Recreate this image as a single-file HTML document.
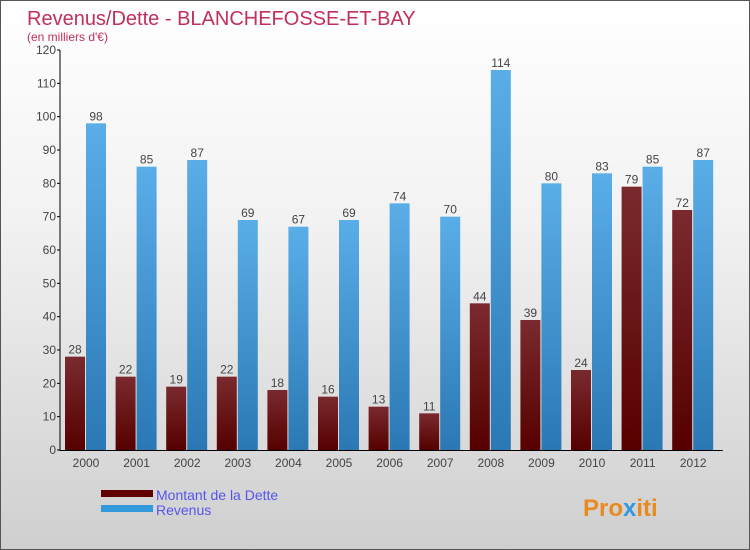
<!DOCTYPE html>
<html><head><meta charset="utf-8"><style>
body{margin:0}
#c{position:relative;width:748px;height:548px;border:1px solid #555;background:linear-gradient(#ffffff,#f2f2f2 40%,#cfcfcf);font-family:"Liberation Sans",sans-serif;overflow:hidden}
</style></head><body>
<div id="c">
<svg id="s" width="748" height="548">
<defs>
<linearGradient id="gd" x1="0" y1="0" x2="0" y2="1"><stop offset="0" stop-color="#7a2a2e"/><stop offset="1" stop-color="#560000"/></linearGradient>
<linearGradient id="gr" x1="0" y1="0" x2="0" y2="1"><stop offset="0" stop-color="#5aaee8"/><stop offset="1" stop-color="#2a78b4"/></linearGradient>
</defs>
<text x="26" y="24" font-size="20" fill="#c0305a">Revenus/Dette - BLANCHEFOSSE-ET-BAY</text>
<text x="26" y="40" font-size="12" fill="#c0305a">(en milliers d'€)</text>
<g id="g"></g>
<rect x="100" y="489" width="52" height="7" fill="#600000"/>
<rect x="100" y="504" width="52" height="7" fill="#3399dd"/>
<text x="155" y="499" font-size="14" fill="#5555ee">Montant de la Dette</text>
<text x="155" y="514" font-size="14" fill="#5555ee">Revenus</text>
<text x="582" y="515" font-size="24" font-weight="bold" fill="#e88a20">Pro<tspan fill="#3399dd">x</tspan>iti</text>
</svg></div>
<script>
const years=["2000","2001","2002","2003","2004","2005","2006","2007","2008","2009","2010","2011","2012"];
const dette=[28,22,19,22,18,16,13,11,44,39,24,79,72];
const revenus=[98,85,87,69,67,69,74,70,114,80,83,85,87];
const ticks=[0,10,20,30,40,50,60,70,80,90,100,110,120];
const g=document.getElementById('g');
const NS="http://www.w3.org/2000/svg";
const x0=59,y0=449,ymax=120,h=400,step=50.6;
const y=v=>y0-v/ymax*h;
function mk(t,a){const e=document.createElementNS(NS,t);for(const k in a)e.setAttribute(k,a[k]);g.appendChild(e);return e;}
years.forEach((yr,i)=>{
 const gx=x0+5+i*step;
 const b1=mk('rect',{x:gx,y:y(dette[i]),width:20,height:y0-y(dette[i]),fill:'url(#gd)'});
 
 
 const b2=mk('rect',{x:gx+21,y:y(revenus[i]),width:20,height:y0-y(revenus[i]),fill:'url(#gr)'});
 
 
 const l1=mk('text',{x:gx+10,y:y(dette[i])-3,'font-size':12,fill:'#444','text-anchor':'middle'});l1.textContent=dette[i];
 
 
 const l2=mk('text',{x:gx+31,y:y(revenus[i])-3,'font-size':12,fill:'#444','text-anchor':'middle'});l2.textContent=revenus[i];
 
 
 const xl=mk('text',{x:gx+21,y:466,'font-size':12,fill:'#444','text-anchor':'middle'});xl.textContent=yr;
 
 
});
ticks.forEach(t=>{
 mk('line',{x1:x0-3,x2:x0,y1:y(t),y2:y(t),stroke:'#000'});
 const tl=mk('text',{x:x0-4,y:y(t)+4,'font-size':12,fill:'#444','text-anchor':'end'});tl.textContent=t;
 
 
});
const ax=mk('line',{x1:x0,x2:x0,y1:y(120),y2:y0+1,stroke:'#000'});


const bx=mk('line',{x1:x0,x2:x0+13*step+5,y1:y0+0.5,y2:y0+0.5,stroke:'#000'});


</script>
</body></html>
